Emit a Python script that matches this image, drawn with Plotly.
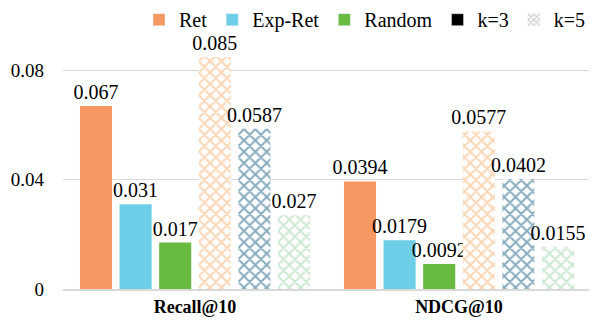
import plotly.graph_objects as go

categories = ["Recall@10", "NDCG@10"]
ret_k3 = [0.067, 0.0394]
exp_k3 = [0.031, 0.0179]
rand_k3 = [0.017, 0.0092]
ret_k5 = [0.085, 0.0577]
exp_k5 = [0.0587, 0.0402]
rand_k5 = [0.027, 0.0155]
labels = {
    "ret_k3": ["0.067", "0.0394"],
    "exp_k3": ["0.031", "0.0179"],
    "rand_k3": ["0.017", "0.0092"],
    "ret_k5": ["0.085", "0.0577"],
    "exp_k5": ["0.0587", "0.0402"],
    "rand_k5": ["0.027", "0.0155"],
}
yticks = [0, 0.04, 0.08]
ytick_text = ["0", "0.04", "0.08"]

FONT = "Liberation Serif, Times New Roman, serif"
fig = go.Figure()

series = [
    (ret_k3, labels["ret_k3"], "#F79862", None),
    (exp_k3, labels["exp_k3"], "#6DCEE8", None),
    (rand_k3, labels["rand_k3"], "#68BA40", None),
    (ret_k5, labels["ret_k5"], "#F5AE6C", "x"),
    (exp_k5, labels["exp_k5"], "#145A7E", "x"),
    (rand_k5, labels["rand_k5"], "#9AD4A4", "x"),
]
for vals, txt, col, pat in series:
    if pat:
        marker = dict(color="white", pattern=dict(shape="x", fgcolor=col, bgcolor="white", size=8, solidity=0.45), line=dict(width=0))
    else:
        marker = dict(color=col, line=dict(width=0))
    fig.add_trace(go.Bar(x=categories, y=vals, text=txt, textposition="outside",
                         textfont=dict(family=FONT, size=20, color="black"),
                         constraintext="none",
                         cliponaxis=False, marker=marker, showlegend=False))

# legend entries on a hidden overlay axis
leg = [("Ret", "#F79862", None), ("Exp-Ret", "#6DCEE8", None), ("Random", "#68BA40", None),
       ("k=3", "black", None), ("k=5", "#999999", "x")]
for name, col, pat in leg:
    if pat:
        marker = dict(color="white", pattern=dict(shape="x", fgcolor=col, bgcolor="white", size=5, solidity=0.5))
    else:
        marker = dict(color=col)
    fig.add_trace(go.Bar(x=[None], y=[None], name=name, marker=marker, xaxis="x2", yaxis="y2", showlegend=True))

# page body has an 8px margin: figure is sized so it fits the 597x328 window
fig.update_layout(
    width=589, height=320,
    margin=dict(l=55, r=6, t=8, b=39, autoexpand=False),
    paper_bgcolor="white", plot_bgcolor="white",
    barmode="group", bargap=0.1, bargroupgap=0.19,
    font=dict(family=FONT, size=20, color="black"),
    xaxis=dict(showgrid=False, showline=True, linecolor="#D9D9D9", linewidth=2,
               tickfont=dict(family=FONT, size=18, color="black"), ticks="",
               tickvals=categories, ticktext=["<b>%s</b>" % c for c in categories]),
    yaxis=dict(range=[0, 0.1], tickvals=yticks, ticktext=ytick_text, showgrid=True,
               gridcolor="#D9D9D9", gridwidth=1, zeroline=False, showline=False,
               tickfont=dict(family=FONT, size=19, color="black"), ticks="",
               ticklabelstandoff=18),
    xaxis2=dict(overlaying="x", visible=False),
    yaxis2=dict(overlaying="y", visible=False),
    legend=dict(orientation="h", x=1.0, xanchor="right", y=1.058, yanchor="top",
                font=dict(family=FONT, size=20, color="black"), itemwidth=30,
                tracegroupgap=0, bgcolor="rgba(0,0,0,0)"),
)

fig.write_html("out.html")
